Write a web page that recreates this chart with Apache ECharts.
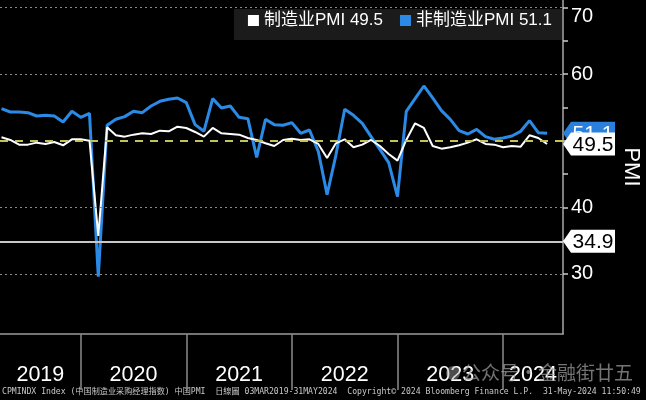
<!DOCTYPE html>
<html><head><meta charset="utf-8">
<script src="https://cdn.jsdelivr.net/npm/echarts@6/dist/echarts.min.js"></script>
<style>html,body{margin:0;padding:0;background:#000}#c{width:646px;height:400px}</style>
</head><body><div id="c"></div>
<script>
// ---- data ----
const months = [
  '2019-03','2019-04','2019-05','2019-06','2019-07','2019-08','2019-09','2019-10','2019-11','2019-12',
  '2020-01','2020-02','2020-03','2020-04','2020-05','2020-06','2020-07','2020-08','2020-09','2020-10','2020-11','2020-12',
  '2021-01','2021-02','2021-03','2021-04','2021-05','2021-06','2021-07','2021-08','2021-09','2021-10','2021-11','2021-12',
  '2022-01','2022-02','2022-03','2022-04','2022-05','2022-06','2022-07','2022-08','2022-09','2022-10','2022-11','2022-12',
  '2023-01','2023-02','2023-03','2023-04','2023-05','2023-06','2023-07','2023-08','2023-09','2023-10','2023-11','2023-12',
  '2024-01','2024-02','2024-03','2024-04','2024-05'
];
const mfgPMI = [
  50.5,50.1,49.4,49.4,49.7,49.5,49.8,49.3,50.2,50.2,
  50.0,35.7,52.0,50.8,50.6,50.9,51.1,51.0,51.5,51.4,52.1,51.9,
  51.3,50.6,51.9,51.1,51.0,50.9,50.4,50.1,49.6,49.2,50.1,50.3,
  50.1,50.2,49.5,47.4,49.6,50.2,49.0,49.4,50.1,49.2,48.0,47.0,
  50.1,52.6,51.9,49.2,48.8,49.0,49.3,49.7,50.2,49.5,49.4,49.0,
  49.2,49.1,50.8,50.4,49.5
];
const nonMfgPMI = [
  54.8,54.3,54.3,54.2,53.7,53.8,53.7,52.8,54.4,53.5,
  54.1,29.6,52.3,53.2,53.6,54.4,54.2,55.2,55.9,56.2,56.4,55.7,
  52.4,51.4,56.3,54.9,55.2,53.5,53.3,47.5,53.2,52.4,52.3,52.7,
  51.1,51.6,48.4,41.9,47.8,54.7,53.8,52.6,50.6,48.7,46.7,41.6,
  54.4,56.3,58.2,56.4,54.5,53.2,51.5,51.0,51.7,50.6,50.2,50.4,
  50.7,51.4,53.0,51.2,51.1
];
const seriesNames = ['制造业PMI', '非制造业PMI'];
const yearLabels = ['2019','2020','2021','2022','2023','2024'];
const yTickLabels = [30, 40, 60, 70];
const yTicks = [30, 35, 40, 45, 50, 55, 60, 65, 70];
const gridLevels = [30, 40, 60, 70];
const neutralLevel = 50;
const refLevel = 34.9;
const axisName = 'PMI';
const footerText = 'CPMINDX Index (中国制造业采购经理指数) 中国PMI  日線圖 03MAR2019-31MAY2024  Copyright© 2024 Bloomberg Finance L.P.  31-May-2024 11:50:49';
const watermarkText = '公众号·金融街廿五';

// ---- layout / style ----
const X_MIN = 2.83, X_MAX = 66.81;
const Y_MIN = 20.99, Y_MAX = 71.10;
const BLUE = '#2b8ae6';
const WHITE = '#ffffff';
const firstYear = Number(yearLabels[0]);
function monthPos(s) { const p = s.split('-').map(Number); return (p[0] - firstYear) * 12 + p[1]; }
const yearBounds = yearLabels.slice(1).map((_, i) => (i + 1) * 12);
const yearCenters = yearLabels.map((_, i) => (Math.max(i * 12, X_MIN) + Math.min((i + 1) * 12, X_MAX)) / 2);
const lastMfg = mfgPMI[mfgPMI.length - 1];
const lastNon = nonMfgPMI[nonMfgPMI.length - 1];
const lastVals = { [seriesNames[0]]: lastMfg, [seriesNames[1]]: lastNon };

const tagPath = 'path://M0,11.5 L8,0 L52,0 L52,23 L8,23 Z';
function tag(value, bg, fg) {
  return {
    coord: [X_MAX, value], value: value,
    symbol: tagPath, symbolSize: [52, 23], symbolKeepAspect: false, symbolOffset: [26, 0],
    itemStyle: { color: bg },
    label: { show: true, position: 'inside', formatter: String(value), color: fg, fontSize: 21,
             fontFamily: 'Liberation Sans', offset: [4, 1] }
  };
}

const chart = echarts.init(document.getElementById('c'));
chart.setOption({
  animation: false,
  backgroundColor: '#000',
  grid: { left: 0, right: 83, top: 0, bottom: 66, containLabel: false, outerBoundsMode: 'none' },
  legend: {
    data: seriesNames, right: 84, top: 9, padding: [3, 10, 11, 14],
    backgroundColor: '#1b1b1b', itemWidth: 11, itemHeight: 11, itemGap: 17, icon: 'rect',
    textStyle: { color: '#fff', fontSize: 17, fontFamily: 'Liberation Sans, Noto Sans CJK SC' },
    formatter: n => n + ' ' + lastVals[n]
  },
  xAxis: {
    type: 'value', min: X_MIN, max: X_MAX,
    axisLine: { show: true, lineStyle: { color: '#9a9a9a', width: 1.5 } },
    axisTick: { show: true, customValues: yearBounds, length: 56, lineStyle: { color: '#8a8a8a', width: 1.5 } },
    axisLabel: { customValues: yearCenters, color: '#fff', fontSize: 21.5, fontFamily: 'Liberation Sans',
                 margin: 30, formatter: v => yearLabels[Math.floor(v / 12)] },
    splitLine: { show: false }
  },
  yAxis: {
    type: 'value', position: 'right', min: Y_MIN, max: Y_MAX,
    axisLine: { show: true, lineStyle: { color: '#aaaaaa', width: 1.5 } },
    axisTick: { show: true, customValues: yTicks, length: 5, lineStyle: { color: '#cccccc', width: 1.5 } },
    axisLabel: {
      customValues: yTickLabels, color: '#fff', fontSize: 20, fontFamily: 'Liberation Sans', margin: 8,
      formatter: v => v === Math.max(...yTickLabels) ? '{lo|' + v + '}' : String(v),
      rich: { lo: { color: '#fff', fontSize: 20, fontFamily: 'Liberation Sans', padding: [18, 0, 0, 0] } }
    },
    splitLine: { show: false },
    name: axisName, nameLocation: 'middle', nameRotate: -90, nameGap: 57,
    nameTextStyle: { color: '#fff', fontSize: 22, fontFamily: 'Liberation Sans' }
  },
  series: [
    {
      name: seriesNames[1], type: 'line', z: 2,
      data: months.map((m, i) => [monthPos(m), nonMfgPMI[i]]),
      showSymbol: false, symbol: 'none',
      lineStyle: { color: BLUE, width: 3 }, itemStyle: { color: BLUE },
      markLine: {
        silent: true, symbol: ['none', 'none'], label: { show: false },
        data: gridLevels.map(v => ({ yAxis: v, lineStyle: { type: [2, 3], color: '#8a8a8a', width: 1 } }))
          .concat([
            { yAxis: neutralLevel, lineStyle: { type: [8, 7], color: '#c4c35a', width: 2 } },
            { yAxis: refLevel, lineStyle: { type: 'solid', color: '#c8c8c8', width: 2 } }
          ])
      },
      markPoint: { silent: true, data: [tag(lastNon, '#2a80dc', '#fff'), tag(refLevel, '#fff', '#000')] }
    },
    {
      name: seriesNames[0], type: 'line', z: 3,
      data: months.map((m, i) => [monthPos(m), mfgPMI[i]]),
      showSymbol: false, symbol: 'none',
      lineStyle: { color: WHITE, width: 2 }, itemStyle: { color: WHITE },
      markPoint: { silent: true, data: [tag(lastMfg, '#fff', '#000')] }
    }
  ],
  graphic: [
    { type: 'circle', shape: { cx: 453, cy: 373, r: 7 }, style: { fill: 'rgba(170,170,170,0.45)' }, z: 1 },
    { type: 'text', left: 462, top: 363, z: 1,
      style: { text: watermarkText, fill: 'rgba(165,165,165,0.7)', fontSize: 19, fontFamily: 'Noto Sans CJK SC' } },
    { type: 'text', left: 2, top: 388,
      style: { text: footerText, fill: '#c8c8c8', fontSize: 8.15, fontFamily: 'DejaVu Sans Mono, Noto Sans CJK SC' } }
  ]
});
</script>
</body></html>
